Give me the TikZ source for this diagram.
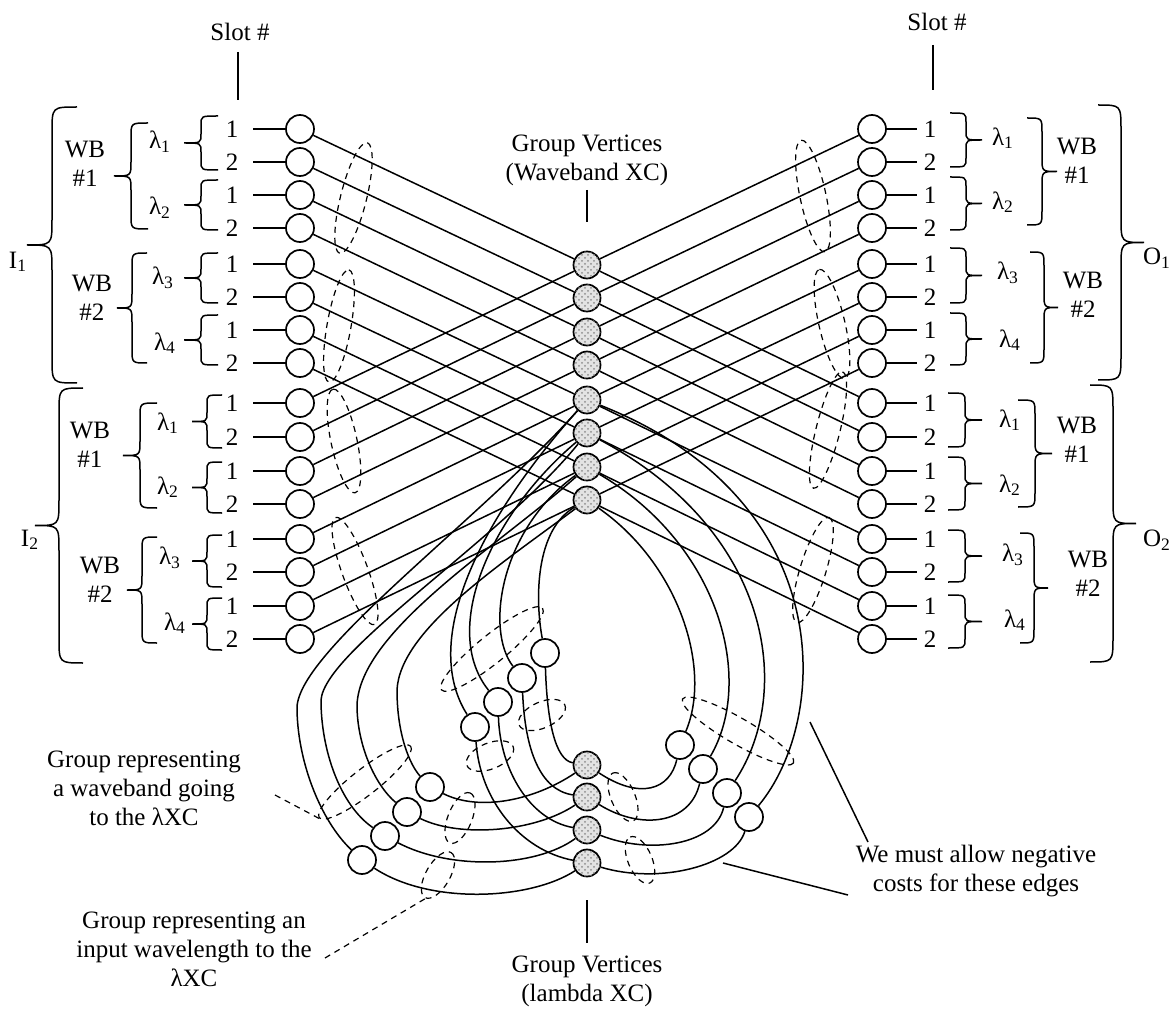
\documentclass[tikz,border=0pt]{standalone}
\usepackage{fontspec}
\setmainfont{Liberation Serif}
\usetikzlibrary{patterns}

\newcommand{\bracel}[5]{%
  \pgfmathsetmacro\brm{(#2+#3)/2}%
  \draw (#1,#2) .. controls ({#1-#4},#2) .. ({#1-#4},{#2+#5})
    -- ({#1-#4},{\brm-#5}) .. controls ({#1-#4},\brm) .. ({#1-2*#4},\brm)
    .. controls ({#1-#4},\brm) .. ({#1-#4},{\brm+#5})
    -- ({#1-#4},{#3-#5}) .. controls ({#1-#4},#3) .. (#1,#3);}
\newcommand{\bracer}[5]{%
  \pgfmathsetmacro\brm{(#2+#3)/2}%
  \draw (#1,#2) .. controls ({#1+#4},#2) .. ({#1+#4},{#2+#5})
    -- ({#1+#4},{\brm-#5}) .. controls ({#1+#4},\brm) .. ({#1+2*#4},\brm)
    .. controls ({#1+#4},\brm) .. ({#1+#4},{\brm+#5})
    -- ({#1+#4},{#3-#5}) .. controls ({#1+#4},#3) .. (#1,#3);}

\begin{document}
\begin{tikzpicture}[x=0.5pt, y=-0.5pt, line width=0.75pt,
    every node/.style={font=\fontsize{12.5}{14.5}\selectfont},
    slot/.style={circle, draw, minimum size=14pt, inner sep=0pt, line width=0.85pt},
    gvert/.style={circle, draw, fill=gray!22, minimum size=13.5pt, inner sep=0pt, line width=0.85pt,
      postaction={pattern=crosshatch dots, pattern color=gray!90}},
    numl/.style={inner xsep=7pt},
    numr/.style={inner xsep=3pt},
    note/.style={align=center},
    dashgrp/.style={dash pattern=on 3pt off 2.5pt, line width=0.6pt}]
  \useasboundingbox (0,0) rectangle (1175,1011);

  \foreach \y [count=\i] in {129,162,195,228,264,297,330,363,403,437,471,504,539,572,606,639} {
    \pgfmathtruncatemacro\s{2-mod(\i,2)}
    \node[slot] (L\i) at (300,\y) {};
    \node[slot] (R\i) at (872,\y) {};
    \node[numl] (nl\i) at (232,\y) {\s};
    \node[numr] (nr\i) at (930,\y) {\s};
    \draw (nl\i) -- (L\i);
    \draw (R\i) -- (nr\i);
  }
  \foreach \y [count=\i] in {265,298,332,365,400,433,467,500}
    \node[gvert] (W\i) at (587,\y) {};
  \foreach \y [count=\i] in {765,797,830,863}
    \node[gvert] (X\i) at (587,\y) {};
  \foreach \x/\y [count=\i] in {430/787,407/812,385/836,362/860}
    \node[slot] (A\i) at (\x,\y) {};
  \foreach \x/\y [count=\i] in {545/653,522/678,498/702,475/727}
    \node[slot] (C\i) at (\x,\y) {};
  \foreach \x/\y [count=\i] in {680/745,703/769,727/793,749/817}
    \node[slot] (B\i) at (\x,\y) {};

  \foreach \i in {1,...,8} {
    \pgfmathtruncatemacro\j{\i+8}
    \draw (L\i) -- (W\i) -- (R\j);
    \draw (L\j) -- (W\i) -- (R\i);
  }

  \draw (W5) .. controls (480,520) and (300,650) .. (297,707) .. controls (297,760) and (320,820) .. (A4);
  \draw (W6) .. controls (500,540) and (325,650) .. (321,700) .. controls (321,750) and (340,805) .. (A3);
  \draw (W7) .. controls (500,545) and (360,630) .. (357,705) .. controls (357,745) and (375,785) .. (A2);
  \draw (W8) .. controls (500,565) and (400,630) .. (397,690) .. controls (397,735) and (410,765) .. (A1);
  \draw (W5) .. controls (480,520) and (420,640) .. (C4);
  \draw (W6) .. controls (490,515) and (440,630) .. (C3);
  \draw (W7) .. controls (500,530) and (485,630) .. (C2);
  \draw (W8) .. controls (535,530) and (535,600) .. (C1);
  \draw (W8) .. controls (680,565) and (712,670) .. (B1);
  \draw (W7) .. controls (720,545) and (755,680) .. (B2);
  \draw (W6) .. controls (770,530) and (795,690) .. (B3);
  \draw (W5) .. controls (840,500) and (830,720) .. (B4);

  \draw (C1) .. controls (547,720) and (555,760) .. (X1);
  \draw (C2) .. controls (525,750) and (540,790) .. (X2);
  \draw (C3) .. controls (500,770) and (530,820) .. (X3);
  \draw (C4) .. controls (480,800) and (520,850) .. (X4);
  \draw (A1) .. controls (480,812) and (535,800) .. (X1);
  \draw (A2) .. controls (460,838) and (535,832) .. (X2);
  \draw (A3) .. controls (450,870) and (535,868) .. (X3);
  \draw (A4) .. controls (430,905) and (530,900) .. (X4);
  \draw (X1) .. controls (640,800) and (670,790) .. (B1);
  \draw (X2) .. controls (640,830) and (690,825) .. (B2);
  \draw (X3) .. controls (650,855) and (715,845) .. (B3);
  \draw (X4) .. controls (660,885) and (735,865) .. (B4);

  % groups
  \foreach \cx/\cy/\rx/\ry/\a in {353.5/198/57/13/76, 339/326/57/12/80, 344/441/53/13/102,
      355/571/57/13/110, 813/196/57/13/102, 832/324/56/13/103, 828/430/60/12/76,
      813/570/55/13/73, 492/649/65/14/39, 542/715/25/13/24, 490/756/25/13/22,
      365/782/58/13/38, 438/875/26/12/60, 460/818/27/12/68, 623/797/26/12/113,
      640/860/25/12/113, 738/731/64/13/-30}
    \draw[dashgrp, rotate around={\a:(\cx,\cy)}] (\cx,\cy) ellipse ({\rx} and {\ry});

  % braces
  \bracel{218}{116}{170}{17}{9}
  \bracel{218}{180}{230}{17}{9}
  \bracel{218}{253}{303}{17}{9}
  \bracel{218}{315}{365}{17}{9}
  \bracel{222}{395}{448}{15}{9}
  \bracel{222}{462}{513}{15}{9}
  \bracel{222}{535}{587}{15}{9}
  \bracel{222}{598}{650}{15}{9}
  \bracel{148}{123}{229}{17}{14}
  \bracel{147}{253}{363}{15}{14}
  \bracel{157}{403}{508}{17}{14}
  \bracel{157}{537}{643}{15}{14}
  \bracel{77}{107}{383}{25}{25}
  \bracel{83}{388}{663}{24}{25}
  \bracer{950}{113}{167}{16}{9}
  \bracer{950}{177}{230}{16}{9}
  \bracer{950}{248}{303}{16}{9}
  \bracer{950}{313}{365}{16}{9}
  \bracer{948}{393}{447}{17}{9}
  \bracer{948}{457}{510}{17}{9}
  \bracer{948}{530}{582}{17}{9}
  \bracer{948}{595}{648}{17}{9}
  \bracer{1027}{118}{225}{15}{14}
  \bracer{1030}{252}{363}{14}{14}
  \bracer{1018}{400}{507}{17}{14}
  \bracer{1020}{533}{643}{14}{14}
  \bracer{1098}{105}{380}{23}{25}
  \bracer{1090}{385}{662}{23}{25}

  \foreach \x/\y/\k [count=\i] in {160/142/1,160/208/2,163/278/3,165/343/4,
      168/423/1,168/487/2,170/558/3,175/623/4}
    \node (ll\i) at (\x,\y) {λ\textsubscript{\k}};
  \foreach \x/\y/\k [count=\i] in {1003/138/1,1003/202/2,1008/273/3,1010/340/4,
      1010/420/1,1010/485/2,1013/555/3,1015/620/4}
    \node (lr\i) at (\x,\y) {λ\textsubscript{\k}};
  \foreach \x/\y/\k [count=\i] in {85/164/1,92/298/2,90/445/1,100/580/2,
      1077/161/1,1083/295/2,1077/440/1,1088/574/2}
    \node[note] (wb\i) at (\x,\y) {WB\\\#\k};
  \node (I1) at (18,262) {I\textsubscript{1}};
  \node (I2) at (30,540) {I\textsubscript{2}};
  \node (O1) at (1157,258) {O\textsubscript{1}};
  \node (O2) at (1157,540) {O\textsubscript{2}};

  \node[note] (slotl) at (240,32) {Slot \#};
  \node[note] (slotr) at (937,22) {Slot \#};
  \coordinate (sl1) at (238,52); \coordinate (sl2) at (238,100);
  \coordinate (sr1) at (933,45); \coordinate (sr2) at (933,90);
  \draw (sl1) -- (sl2);
  \draw (sr1) -- (sr2);

  \node[note] (wbxc) at (587,160) {Group Vertices\\(Waveband XC)};
  \coordinate (wx1) at (587,190); \coordinate (wx2) at (587,222);
  \draw (wx1) -- (wx2);
  \node[note] (lxc) at (587,981) {Group Vertices\\(lambda XC)};
  \coordinate (lx1) at (587,900); \coordinate (lx2) at (587,943);
  \draw (lx1) -- (lx2);

  \node[note] (wbnote) at (144,788) {Group representing\\a waveband going\\to the λXC};
  \coordinate (wbp) at (275,795); \coordinate (wbq) at (322,820);
  \draw[dashgrp] (wbp) -- (wbq);
  \node[note] (innote) at (194,949) {Group representing an\\input wavelength to the\\λXC};
  \coordinate (inp) at (325,958); \coordinate (inq) at (428,897);
  \draw[dashgrp] (inp) -- (inq);
  \node[note] (negnote) at (976,871) {We must allow negative\\costs for these edges};
  \coordinate (ng1) at (810,722); \coordinate (ng2) at (868,842);
  \coordinate (ng3) at (723,863); \coordinate (ng4) at (848,895);
  \draw (ng1) -- (ng2);
  \draw (ng3) -- (ng4);
\end{tikzpicture}
\end{document}
